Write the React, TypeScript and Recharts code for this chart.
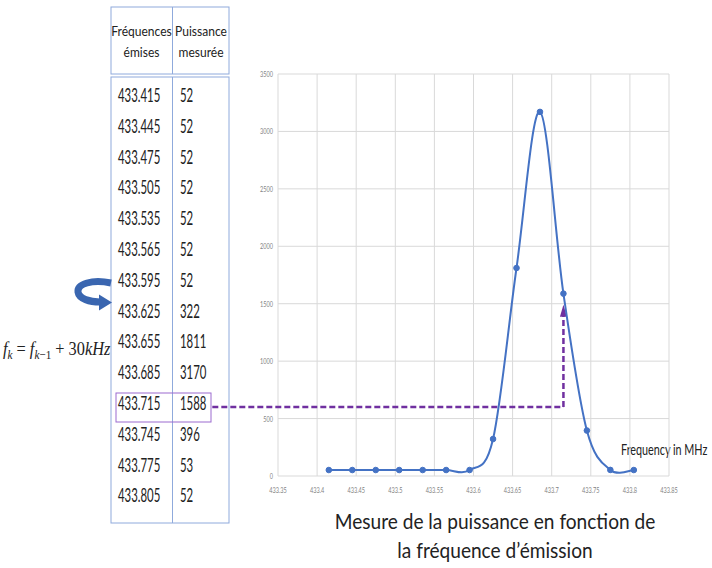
import React from 'react';
import { LineChart, Line, XAxis, YAxis, CartesianGrid, ReferenceLine } from 'recharts';

// measured frequencies (MHz) and power
const freqs = [433.415, 433.445, 433.475, 433.505, 433.535, 433.565, 433.595, 433.625, 433.655, 433.685, 433.715, 433.745, 433.775, 433.805];
const power = [52, 52, 52, 52, 52, 52, 52, 322, 1811, 3170, 1588, 396, 53, 52];
const xTicks = [433.35, 433.4, 433.45, 433.5, 433.55, 433.6, 433.65, 433.7, 433.75, 433.8, 433.85];
const yTicks = [0, 500, 1000, 1500, 2000, 2500, 3000, 3500];
const highlightIndex = 10;
const tableEdgeFreq = 433.266; // where the dashed pointer leaves the table
const pointerLevel = 600;
const pointerTop = 1490;

const data = freqs.map((f, i) => ({ freq: f, power: power[i] }));

const BLUE = '#4472C4';
const PURPLE = '#7030A0';
const FONT = 'Lato, "Open Sans", sans-serif';

// Excel-like smoothed line (cardinal spline through every point)
const excelSmooth = (context: any) => {
  let pts: number[][] = [];
  return {
    areaStart() {},
    areaEnd() {},
    lineStart() { pts = []; },
    point(x: number, y: number) { pts.push([+x, +y]); },
    lineEnd() {
      if (!pts.length) return;
      context.moveTo(pts[0][0], pts[0][1]);
      for (let i = 0; i < pts.length - 1; i++) {
        const p0 = pts[Math.max(i - 1, 0)];
        const p1 = pts[i];
        const p2 = pts[i + 1];
        const p3 = pts[Math.min(i + 2, pts.length - 1)];
        context.bezierCurveTo(
          p1[0] + (p2[0] - p0[0]) / 6, p1[1] + (p2[1] - p0[1]) / 6,
          p2[0] - (p3[0] - p1[0]) / 6, p2[1] - (p3[1] - p1[1]) / 6,
          p2[0], p2[1]
        );
      }
    },
  };
};

const Narrow = ({ x, y, size, sx, anchor = 'start', fill = '#222', children }: any) => (
  <text
    transform={`translate(${x},${y}) scale(${sx},1)`}
    textAnchor={anchor}
    fontSize={size}
    fontFamily={FONT}
    fill={fill}
  >
    {children}
  </text>
);

const XTick = (props: any) => {
  const { x, y, payload } = props;
  return (
    <Narrow x={x} y={y + 9} size={8} sx={0.7} anchor="middle" fill="#7f7f7f">
      {String(payload.value)}
    </Narrow>
  );
};

const YTick = (props: any) => {
  const { x, y, payload } = props;
  return (
    <Narrow x={x + 3} y={y + 3} size={8} sx={0.7} anchor="end" fill="#7f7f7f">
      {String(payload.value)}
    </Narrow>
  );
};

const PointerArrow = (props: any) => {
  const { x1, y1, x2, y2 } = props;
  return (
    <g>
      <line x1={x1} y1={y1} x2={x2} y2={y2 + 8} stroke={PURPLE} strokeWidth={2.5} strokeDasharray="6 3" />
      <polygon points={`${x2 - 3.5},${y2 + 12} ${x2},${y2} ${x2 + 3.5},${y2 + 12}`} fill={PURPLE} />
    </g>
  );
};

const TableAndNotes = () => {
  const rowY = (i: number) => 102 + i * 30.8;
  return (
    <svg width={712} height={568} style={{ position: 'absolute', left: 0, top: 0 }}>
      {/* header box */}
      <rect x={111} y={7} width={118} height={67} fill="none" stroke="#8FAADC" strokeWidth={1} />
      <line x1={172.5} y1={7} x2={172.5} y2={74} stroke="#8FAADC" />
      <Narrow x={141.5} y={36} size={14} sx={0.86} anchor="middle">Fréquences</Narrow>
      <Narrow x={141.5} y={57} size={14} sx={0.86} anchor="middle">émises</Narrow>
      <Narrow x={201} y={36} size={14} sx={0.86} anchor="middle">Puissance</Narrow>
      <Narrow x={201} y={57} size={14} sx={0.86} anchor="middle">mesurée</Narrow>

      {/* body box */}
      <rect x={111} y={77} width={118} height={446} fill="none" stroke="#8FAADC" strokeWidth={1} />
      <line x1={172.5} y1={77} x2={172.5} y2={523} stroke="#8FAADC" />
      {freqs.map((f, i) => (
        <g key={f}>
          <Narrow x={118} y={rowY(i)} size={20} sx={0.57}>{f.toFixed(3)}</Narrow>
          <Narrow x={180} y={rowY(i)} size={20} sx={0.57}>{String(power[i])}</Narrow>
        </g>
      ))}
      <rect x={116} y={393} width={95} height={29} fill="none" stroke="#9B6BCF" strokeWidth={1} />

      {/* recursion arrow and formula */}
      <path d="M111 283 C 92 279, 77 284, 78 292 C 79 299, 90 302, 100 302" stroke="#3A66B0" strokeWidth={7} fill="none" />
      <polygon points="99,294.5 112,302.5 99,310.5" fill="#3A66B0" />
      <text transform="translate(3,355) scale(0.86,1)" fontFamily='"Liberation Serif", serif' fontSize={19} fill="#222">
        <tspan fontStyle="italic">f</tspan>
        <tspan fontStyle="italic" fontSize={13} dy={4}>k</tspan>
        <tspan dy={-4}>{' = '}</tspan>
        <tspan fontStyle="italic">f</tspan>
        <tspan fontStyle="italic" fontSize={13} dy={4}>k</tspan>
        <tspan fontSize={13}>−1</tspan>
        <tspan dy={-4}>{' + 30'}</tspan>
        <tspan fontStyle="italic">kHz</tspan>
      </text>

      {/* caption */}
      <Narrow x={495} y={529} size={21} sx={0.91} anchor="middle">Mesure de la puissance en fonction de</Narrow>
      <Narrow x={495} y={558} size={21} sx={0.91} anchor="middle">la fréquence d’émission</Narrow>
      <Narrow x={621} y={455} size={15} sx={0.72}>Frequency in MHz</Narrow>
    </svg>
  );
};

export default function App() {
  return (
    <div style={{ position: 'absolute', left: 0, top: 0, width: 712, height: 568, background: '#fff' }}>
      <TableAndNotes />
      <div style={{ position: 'absolute', left: 0, top: 0 }}>
        <LineChart width={712} height={568} data={data} margin={{ top: 74, right: 43, bottom: 72, left: 240 }}>
          <CartesianGrid stroke="#d9d9d9" />
          <XAxis
            dataKey="freq"
            type="number"
            domain={[433.35, 433.85]}
            ticks={xTicks}
            interval={0}
            axisLine={false}
            tickLine={false}
            height={20}
            tick={<XTick />}
          />
          <YAxis
            type="number"
            domain={[0, 3500]}
            ticks={yTicks}
            interval={0}
            axisLine={false}
            tickLine={false}
            width={38}
            tick={<YTick />}
          />
          <ReferenceLine
            segment={[{ x: tableEdgeFreq, y: pointerLevel }, { x: freqs[highlightIndex], y: pointerLevel }]}
            stroke={PURPLE}
            strokeWidth={2.5}
            strokeDasharray="6 3"
            ifOverflow="visible"
          />
          <ReferenceLine
            segment={[{ x: freqs[highlightIndex], y: pointerLevel }, { x: freqs[highlightIndex], y: pointerTop }]}
            ifOverflow="visible"
            shape={(p: any) => <PointerArrow {...p} />}
          />
          <Line
            dataKey="power"
            type={excelSmooth as any}
            stroke={BLUE}
            strokeWidth={2}
            dot={{ r: 2.8, fill: BLUE, stroke: BLUE, strokeWidth: 1 }}
            isAnimationActive={false}
          />
        </LineChart>
      </div>
    </div>
  );
}
